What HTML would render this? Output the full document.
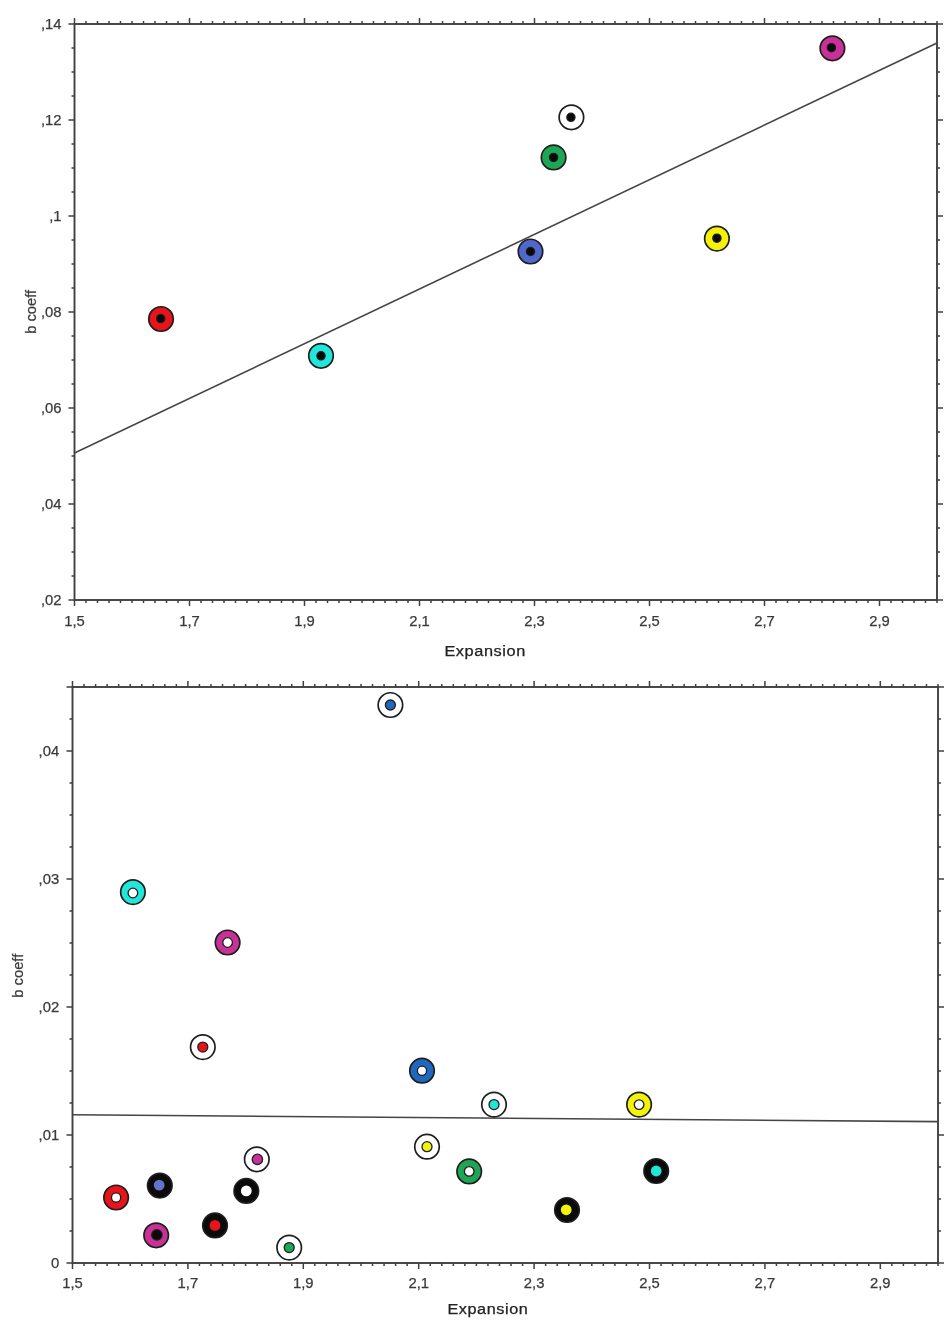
<!DOCTYPE html>
<html><head><meta charset="utf-8"><title>b coeff vs Expansion</title>
<style>
html,body{margin:0;padding:0;background:#fff;}
body{width:950px;height:1328px;overflow:hidden;font-family:"Liberation Sans", sans-serif;}
svg{display:block;filter:blur(0.4px);}
.t{font-family:"Liberation Sans", sans-serif;fill:#3a3a3a;stroke:#3a3a3a;stroke-width:0.25px;}
</style></head><body>
<svg width="950" height="1328" viewBox="0 0 950 1328">
<rect width="950" height="1328" fill="#ffffff"/>
<path d="M74.50 24.00V18.00M74.50 600.00V606.00M86.00 24.00V21.00M86.00 600.00V603.00M97.50 24.00V21.00M97.50 600.00V603.00M109.00 24.00V21.00M109.00 600.00V603.00M120.50 24.00V21.00M120.50 600.00V603.00M132.00 24.00V21.00M132.00 600.00V603.00M143.50 24.00V21.00M143.50 600.00V603.00M155.00 24.00V21.00M155.00 600.00V603.00M166.50 24.00V21.00M166.50 600.00V603.00M178.00 24.00V21.00M178.00 600.00V603.00M189.50 24.00V18.00M189.50 600.00V606.00M201.00 24.00V21.00M201.00 600.00V603.00M212.50 24.00V21.00M212.50 600.00V603.00M224.00 24.00V21.00M224.00 600.00V603.00M235.50 24.00V21.00M235.50 600.00V603.00M247.00 24.00V21.00M247.00 600.00V603.00M258.50 24.00V21.00M258.50 600.00V603.00M270.00 24.00V21.00M270.00 600.00V603.00M281.50 24.00V21.00M281.50 600.00V603.00M293.00 24.00V21.00M293.00 600.00V603.00M304.50 24.00V18.00M304.50 600.00V606.00M316.00 24.00V21.00M316.00 600.00V603.00M327.50 24.00V21.00M327.50 600.00V603.00M339.00 24.00V21.00M339.00 600.00V603.00M350.50 24.00V21.00M350.50 600.00V603.00M362.00 24.00V21.00M362.00 600.00V603.00M373.50 24.00V21.00M373.50 600.00V603.00M385.00 24.00V21.00M385.00 600.00V603.00M396.50 24.00V21.00M396.50 600.00V603.00M408.00 24.00V21.00M408.00 600.00V603.00M419.50 24.00V18.00M419.50 600.00V606.00M431.00 24.00V21.00M431.00 600.00V603.00M442.50 24.00V21.00M442.50 600.00V603.00M454.00 24.00V21.00M454.00 600.00V603.00M465.50 24.00V21.00M465.50 600.00V603.00M477.00 24.00V21.00M477.00 600.00V603.00M488.50 24.00V21.00M488.50 600.00V603.00M500.00 24.00V21.00M500.00 600.00V603.00M511.50 24.00V21.00M511.50 600.00V603.00M523.00 24.00V21.00M523.00 600.00V603.00M534.50 24.00V18.00M534.50 600.00V606.00M546.00 24.00V21.00M546.00 600.00V603.00M557.50 24.00V21.00M557.50 600.00V603.00M569.00 24.00V21.00M569.00 600.00V603.00M580.50 24.00V21.00M580.50 600.00V603.00M592.00 24.00V21.00M592.00 600.00V603.00M603.50 24.00V21.00M603.50 600.00V603.00M615.00 24.00V21.00M615.00 600.00V603.00M626.50 24.00V21.00M626.50 600.00V603.00M638.00 24.00V21.00M638.00 600.00V603.00M649.50 24.00V18.00M649.50 600.00V606.00M661.00 24.00V21.00M661.00 600.00V603.00M672.50 24.00V21.00M672.50 600.00V603.00M684.00 24.00V21.00M684.00 600.00V603.00M695.50 24.00V21.00M695.50 600.00V603.00M707.00 24.00V21.00M707.00 600.00V603.00M718.50 24.00V21.00M718.50 600.00V603.00M730.00 24.00V21.00M730.00 600.00V603.00M741.50 24.00V21.00M741.50 600.00V603.00M753.00 24.00V21.00M753.00 600.00V603.00M764.50 24.00V18.00M764.50 600.00V606.00M776.00 24.00V21.00M776.00 600.00V603.00M787.50 24.00V21.00M787.50 600.00V603.00M799.00 24.00V21.00M799.00 600.00V603.00M810.50 24.00V21.00M810.50 600.00V603.00M822.00 24.00V21.00M822.00 600.00V603.00M833.50 24.00V21.00M833.50 600.00V603.00M845.00 24.00V21.00M845.00 600.00V603.00M856.50 24.00V21.00M856.50 600.00V603.00M868.00 24.00V21.00M868.00 600.00V603.00M879.50 24.00V18.00M879.50 600.00V606.00M891.00 24.00V21.00M891.00 600.00V603.00M902.50 24.00V21.00M902.50 600.00V603.00M914.00 24.00V21.00M914.00 600.00V603.00M925.50 24.00V21.00M925.50 600.00V603.00M937.00 24.00V21.00M937.00 600.00V603.00M74.50 600.00H68.50M937.00 600.00H943.00M74.50 576.00H71.50M937.00 576.00H940.00M74.50 552.00H71.50M937.00 552.00H940.00M74.50 528.00H71.50M937.00 528.00H940.00M74.50 504.00H68.50M937.00 504.00H943.00M74.50 480.00H71.50M937.00 480.00H940.00M74.50 456.00H71.50M937.00 456.00H940.00M74.50 432.00H71.50M937.00 432.00H940.00M74.50 408.00H68.50M937.00 408.00H943.00M74.50 384.00H71.50M937.00 384.00H940.00M74.50 360.00H71.50M937.00 360.00H940.00M74.50 336.00H71.50M937.00 336.00H940.00M74.50 312.00H68.50M937.00 312.00H943.00M74.50 288.00H71.50M937.00 288.00H940.00M74.50 264.00H71.50M937.00 264.00H940.00M74.50 240.00H71.50M937.00 240.00H940.00M74.50 216.00H68.50M937.00 216.00H943.00M74.50 192.00H71.50M937.00 192.00H940.00M74.50 168.00H71.50M937.00 168.00H940.00M74.50 144.00H71.50M937.00 144.00H940.00M74.50 120.00H68.50M937.00 120.00H943.00M74.50 96.00H71.50M937.00 96.00H940.00M74.50 72.00H71.50M937.00 72.00H940.00M74.50 48.00H71.50M937.00 48.00H940.00M74.50 24.00H68.50M937.00 24.00H943.00" stroke="#404040" stroke-width="1.5" fill="none"/>
<rect x="74.50" y="24.00" width="862.50" height="576.00" fill="none" stroke="#404040" stroke-width="1.9"/>
<path d="M74.50 453.00L937.00 43.00" stroke="#454545" stroke-width="1.6" fill="none"/>
<circle cx="161.00" cy="319.00" r="12.25" fill="#e8141c" stroke="#1e1e1e" stroke-width="1.7"/>
<circle cx="160.70" cy="318.60" r="4.10" fill="#0a0a0a" stroke="#1e1e1e" stroke-width="1.3"/>
<circle cx="321.00" cy="355.80" r="12.25" fill="#22e6da" stroke="#1e1e1e" stroke-width="1.7"/>
<circle cx="321.00" cy="355.80" r="4.10" fill="#0a0a0a" stroke="#1e1e1e" stroke-width="1.3"/>
<circle cx="530.50" cy="251.50" r="12.25" fill="#5068cc" stroke="#1e1e1e" stroke-width="1.7"/>
<circle cx="530.50" cy="251.50" r="4.10" fill="#0a0a0a" stroke="#1e1e1e" stroke-width="1.3"/>
<circle cx="553.60" cy="157.40" r="12.25" fill="#1ea555" stroke="#1e1e1e" stroke-width="1.7"/>
<circle cx="553.60" cy="157.40" r="4.10" fill="#0a0a0a" stroke="#1e1e1e" stroke-width="1.3"/>
<circle cx="571.40" cy="117.30" r="12.25" fill="#ffffff" stroke="#1e1e1e" stroke-width="1.7"/>
<circle cx="570.90" cy="117.30" r="4.10" fill="#0a0a0a" stroke="#1e1e1e" stroke-width="1.3"/>
<circle cx="716.90" cy="238.60" r="12.25" fill="#f5f20a" stroke="#1e1e1e" stroke-width="1.7"/>
<circle cx="716.90" cy="238.20" r="4.10" fill="#0a0a0a" stroke="#1e1e1e" stroke-width="1.3"/>
<circle cx="832.40" cy="48.30" r="12.25" fill="#c83296" stroke="#1e1e1e" stroke-width="1.7"/>
<circle cx="831.40" cy="47.70" r="4.10" fill="#0a0a0a" stroke="#1e1e1e" stroke-width="1.3"/>
<text class="t" x="74.50" y="625.80" text-anchor="middle" font-size="14.8">1,5</text>
<text class="t" x="189.50" y="625.80" text-anchor="middle" font-size="14.8">1,7</text>
<text class="t" x="304.50" y="625.80" text-anchor="middle" font-size="14.8">1,9</text>
<text class="t" x="419.50" y="625.80" text-anchor="middle" font-size="14.8">2,1</text>
<text class="t" x="534.50" y="625.80" text-anchor="middle" font-size="14.8">2,3</text>
<text class="t" x="649.50" y="625.80" text-anchor="middle" font-size="14.8">2,5</text>
<text class="t" x="764.50" y="625.80" text-anchor="middle" font-size="14.8">2,7</text>
<text class="t" x="879.50" y="625.80" text-anchor="middle" font-size="14.8">2,9</text>
<text class="t" x="61.50" y="29.00" text-anchor="end" font-size="14.8">,14</text>
<text class="t" x="61.50" y="125.00" text-anchor="end" font-size="14.8">,12</text>
<text class="t" x="61.50" y="221.00" text-anchor="end" font-size="14.8">,1</text>
<text class="t" x="61.50" y="317.00" text-anchor="end" font-size="14.8">,08</text>
<text class="t" x="61.50" y="413.00" text-anchor="end" font-size="14.8">,06</text>
<text class="t" x="61.50" y="509.00" text-anchor="end" font-size="14.8">,04</text>
<text class="t" x="61.50" y="605.00" text-anchor="end" font-size="14.8">,02</text>
<text class="t" x="444.40" y="655.80" font-size="14" textLength="81.5" lengthAdjust="spacingAndGlyphs" style="fill:#222;stroke:#222;letter-spacing:0.5px">Expansion</text>
<text class="t" transform="translate(35.60 333.80) rotate(-90)" font-size="14" textLength="44" lengthAdjust="spacingAndGlyphs">b coeff</text>
<path d="M72.50 687.00V681.00M72.50 1263.00V1269.00M84.04 687.00V684.00M84.04 1263.00V1266.00M95.58 687.00V684.00M95.58 1263.00V1266.00M107.12 687.00V684.00M107.12 1263.00V1266.00M118.66 687.00V684.00M118.66 1263.00V1266.00M130.20 687.00V684.00M130.20 1263.00V1266.00M141.74 687.00V684.00M141.74 1263.00V1266.00M153.28 687.00V684.00M153.28 1263.00V1266.00M164.82 687.00V684.00M164.82 1263.00V1266.00M176.36 687.00V684.00M176.36 1263.00V1266.00M187.90 687.00V681.00M187.90 1263.00V1269.00M199.44 687.00V684.00M199.44 1263.00V1266.00M210.98 687.00V684.00M210.98 1263.00V1266.00M222.52 687.00V684.00M222.52 1263.00V1266.00M234.06 687.00V684.00M234.06 1263.00V1266.00M245.60 687.00V684.00M245.60 1263.00V1266.00M257.14 687.00V684.00M257.14 1263.00V1266.00M268.68 687.00V684.00M268.68 1263.00V1266.00M280.22 687.00V684.00M280.22 1263.00V1266.00M291.76 687.00V684.00M291.76 1263.00V1266.00M303.30 687.00V681.00M303.30 1263.00V1269.00M314.84 687.00V684.00M314.84 1263.00V1266.00M326.38 687.00V684.00M326.38 1263.00V1266.00M337.92 687.00V684.00M337.92 1263.00V1266.00M349.46 687.00V684.00M349.46 1263.00V1266.00M361.00 687.00V684.00M361.00 1263.00V1266.00M372.54 687.00V684.00M372.54 1263.00V1266.00M384.08 687.00V684.00M384.08 1263.00V1266.00M395.62 687.00V684.00M395.62 1263.00V1266.00M407.16 687.00V684.00M407.16 1263.00V1266.00M418.70 687.00V681.00M418.70 1263.00V1269.00M430.24 687.00V684.00M430.24 1263.00V1266.00M441.78 687.00V684.00M441.78 1263.00V1266.00M453.32 687.00V684.00M453.32 1263.00V1266.00M464.86 687.00V684.00M464.86 1263.00V1266.00M476.40 687.00V684.00M476.40 1263.00V1266.00M487.94 687.00V684.00M487.94 1263.00V1266.00M499.48 687.00V684.00M499.48 1263.00V1266.00M511.02 687.00V684.00M511.02 1263.00V1266.00M522.56 687.00V684.00M522.56 1263.00V1266.00M534.10 687.00V681.00M534.10 1263.00V1269.00M545.64 687.00V684.00M545.64 1263.00V1266.00M557.18 687.00V684.00M557.18 1263.00V1266.00M568.72 687.00V684.00M568.72 1263.00V1266.00M580.26 687.00V684.00M580.26 1263.00V1266.00M591.80 687.00V684.00M591.80 1263.00V1266.00M603.34 687.00V684.00M603.34 1263.00V1266.00M614.88 687.00V684.00M614.88 1263.00V1266.00M626.42 687.00V684.00M626.42 1263.00V1266.00M637.96 687.00V684.00M637.96 1263.00V1266.00M649.50 687.00V681.00M649.50 1263.00V1269.00M661.04 687.00V684.00M661.04 1263.00V1266.00M672.58 687.00V684.00M672.58 1263.00V1266.00M684.12 687.00V684.00M684.12 1263.00V1266.00M695.66 687.00V684.00M695.66 1263.00V1266.00M707.20 687.00V684.00M707.20 1263.00V1266.00M718.74 687.00V684.00M718.74 1263.00V1266.00M730.28 687.00V684.00M730.28 1263.00V1266.00M741.82 687.00V684.00M741.82 1263.00V1266.00M753.36 687.00V684.00M753.36 1263.00V1266.00M764.90 687.00V681.00M764.90 1263.00V1269.00M776.44 687.00V684.00M776.44 1263.00V1266.00M787.98 687.00V684.00M787.98 1263.00V1266.00M799.52 687.00V684.00M799.52 1263.00V1266.00M811.06 687.00V684.00M811.06 1263.00V1266.00M822.60 687.00V684.00M822.60 1263.00V1266.00M834.14 687.00V684.00M834.14 1263.00V1266.00M845.68 687.00V684.00M845.68 1263.00V1266.00M857.22 687.00V684.00M857.22 1263.00V1266.00M868.76 687.00V684.00M868.76 1263.00V1266.00M880.30 687.00V681.00M880.30 1263.00V1269.00M891.84 687.00V684.00M891.84 1263.00V1266.00M903.38 687.00V684.00M903.38 1263.00V1266.00M914.92 687.00V684.00M914.92 1263.00V1266.00M926.46 687.00V684.00M926.46 1263.00V1266.00M938.00 687.00V684.00M938.00 1263.00V1266.00M72.50 1263.00H66.50M938.00 1263.00H944.00M72.50 1231.00H69.50M938.00 1231.00H941.00M72.50 1199.00H69.50M938.00 1199.00H941.00M72.50 1167.00H69.50M938.00 1167.00H941.00M72.50 1135.00H66.50M938.00 1135.00H944.00M72.50 1103.00H69.50M938.00 1103.00H941.00M72.50 1071.00H69.50M938.00 1071.00H941.00M72.50 1039.00H69.50M938.00 1039.00H941.00M72.50 1007.00H66.50M938.00 1007.00H944.00M72.50 975.00H69.50M938.00 975.00H941.00M72.50 943.00H69.50M938.00 943.00H941.00M72.50 911.00H69.50M938.00 911.00H941.00M72.50 879.00H66.50M938.00 879.00H944.00M72.50 847.00H69.50M938.00 847.00H941.00M72.50 815.00H69.50M938.00 815.00H941.00M72.50 783.00H69.50M938.00 783.00H941.00M72.50 751.00H66.50M938.00 751.00H944.00M72.50 719.00H69.50M938.00 719.00H941.00M72.50 687.00H66.50M938.00 687.00H944.00" stroke="#404040" stroke-width="1.5" fill="none"/>
<rect x="72.50" y="687.00" width="865.50" height="576.00" fill="none" stroke="#404040" stroke-width="1.9"/>
<path d="M72.50 1114.80L938.00 1121.60" stroke="#454545" stroke-width="1.6" fill="none"/>
<circle cx="390.40" cy="705.00" r="12.25" fill="#ffffff" stroke="#1e1e1e" stroke-width="1.7"/>
<circle cx="390.40" cy="705.00" r="5.00" fill="#1e69be" stroke="#1e1e1e" stroke-width="1.3"/>
<circle cx="132.90" cy="892.10" r="12.25" fill="#22e6da" stroke="#1e1e1e" stroke-width="1.7"/>
<circle cx="132.90" cy="893.00" r="4.80" fill="#ffffff" stroke="#1e1e1e" stroke-width="1.3"/>
<circle cx="227.60" cy="942.50" r="12.25" fill="#c83296" stroke="#1e1e1e" stroke-width="1.7"/>
<circle cx="227.60" cy="942.50" r="4.80" fill="#ffffff" stroke="#1e1e1e" stroke-width="1.3"/>
<circle cx="202.80" cy="1047.10" r="12.25" fill="#ffffff" stroke="#1e1e1e" stroke-width="1.7"/>
<circle cx="202.80" cy="1047.10" r="5.00" fill="#e8141c" stroke="#1e1e1e" stroke-width="1.3"/>
<circle cx="422.00" cy="1070.70" r="12.25" fill="#1e69be" stroke="#1e1e1e" stroke-width="1.7"/>
<circle cx="422.00" cy="1070.70" r="4.60" fill="#ffffff" stroke="#1e1e1e" stroke-width="1.3"/>
<circle cx="494.00" cy="1104.60" r="12.25" fill="#ffffff" stroke="#1e1e1e" stroke-width="1.7"/>
<circle cx="494.00" cy="1104.60" r="5.00" fill="#22e6da" stroke="#1e1e1e" stroke-width="1.3"/>
<circle cx="639.10" cy="1104.60" r="12.25" fill="#f5f20a" stroke="#1e1e1e" stroke-width="1.7"/>
<circle cx="639.10" cy="1104.60" r="4.80" fill="#ffffff" stroke="#1e1e1e" stroke-width="1.3"/>
<circle cx="427.00" cy="1146.70" r="12.25" fill="#ffffff" stroke="#1e1e1e" stroke-width="1.7"/>
<circle cx="427.00" cy="1146.70" r="5.00" fill="#f5f20a" stroke="#1e1e1e" stroke-width="1.3"/>
<circle cx="469.20" cy="1171.40" r="12.25" fill="#1ea555" stroke="#1e1e1e" stroke-width="1.7"/>
<circle cx="469.20" cy="1171.40" r="4.80" fill="#ffffff" stroke="#1e1e1e" stroke-width="1.3"/>
<circle cx="656.20" cy="1171.00" r="12.25" fill="#0a0a0a" stroke="#1e1e1e" stroke-width="1.7"/>
<circle cx="656.20" cy="1171.00" r="5.40" fill="#22e6da"/>
<circle cx="256.80" cy="1159.30" r="12.25" fill="#ffffff" stroke="#1e1e1e" stroke-width="1.7"/>
<circle cx="257.40" cy="1159.40" r="5.20" fill="#c83296" stroke="#1e1e1e" stroke-width="1.3"/>
<circle cx="116.10" cy="1197.50" r="12.25" fill="#e8141c" stroke="#1e1e1e" stroke-width="1.7"/>
<circle cx="116.10" cy="1197.50" r="4.60" fill="#ffffff" stroke="#1e1e1e" stroke-width="1.3"/>
<circle cx="159.80" cy="1185.60" r="12.25" fill="#0a0a0a" stroke="#1e1e1e" stroke-width="1.7"/>
<circle cx="159.20" cy="1185.10" r="5.40" fill="#6473c8"/>
<circle cx="246.30" cy="1190.90" r="12.25" fill="#0a0a0a" stroke="#1e1e1e" stroke-width="1.7"/>
<circle cx="246.30" cy="1190.90" r="5.40" fill="#ffffff"/>
<circle cx="215.00" cy="1225.40" r="12.25" fill="#0a0a0a" stroke="#1e1e1e" stroke-width="1.7"/>
<circle cx="215.00" cy="1225.40" r="5.40" fill="#e8141c"/>
<circle cx="156.20" cy="1235.30" r="12.25" fill="#c83296" stroke="#1e1e1e" stroke-width="1.7"/>
<circle cx="156.90" cy="1234.90" r="5.20" fill="#0a0a0a" stroke="#1e1e1e" stroke-width="1.3"/>
<circle cx="289.20" cy="1247.60" r="12.25" fill="#ffffff" stroke="#1e1e1e" stroke-width="1.7"/>
<circle cx="289.20" cy="1247.60" r="5.00" fill="#1ea555" stroke="#1e1e1e" stroke-width="1.3"/>
<circle cx="567.00" cy="1210.00" r="12.25" fill="#0a0a0a" stroke="#1e1e1e" stroke-width="1.7"/>
<circle cx="566.20" cy="1209.80" r="5.40" fill="#f5f20a"/>
<text class="t" x="72.50" y="1287.90" text-anchor="middle" font-size="14.8">1,5</text>
<text class="t" x="187.90" y="1287.90" text-anchor="middle" font-size="14.8">1,7</text>
<text class="t" x="303.30" y="1287.90" text-anchor="middle" font-size="14.8">1,9</text>
<text class="t" x="418.70" y="1287.90" text-anchor="middle" font-size="14.8">2,1</text>
<text class="t" x="534.10" y="1287.90" text-anchor="middle" font-size="14.8">2,3</text>
<text class="t" x="649.50" y="1287.90" text-anchor="middle" font-size="14.8">2,5</text>
<text class="t" x="764.90" y="1287.90" text-anchor="middle" font-size="14.8">2,7</text>
<text class="t" x="880.30" y="1287.90" text-anchor="middle" font-size="14.8">2,9</text>
<text class="t" x="59.20" y="756.00" text-anchor="end" font-size="14.8">,04</text>
<text class="t" x="59.20" y="884.00" text-anchor="end" font-size="14.8">,03</text>
<text class="t" x="59.20" y="1012.00" text-anchor="end" font-size="14.8">,02</text>
<text class="t" x="59.20" y="1140.00" text-anchor="end" font-size="14.8">,01</text>
<text class="t" x="59.20" y="1268.00" text-anchor="end" font-size="14.8">0</text>
<text class="t" x="447.40" y="1313.60" font-size="14" textLength="81" lengthAdjust="spacingAndGlyphs" style="fill:#222;stroke:#222;letter-spacing:0.5px">Expansion</text>
<text class="t" transform="translate(22.60 997.70) rotate(-90)" font-size="14" textLength="44" lengthAdjust="spacingAndGlyphs">b coeff</text>
</svg>
</body></html>
